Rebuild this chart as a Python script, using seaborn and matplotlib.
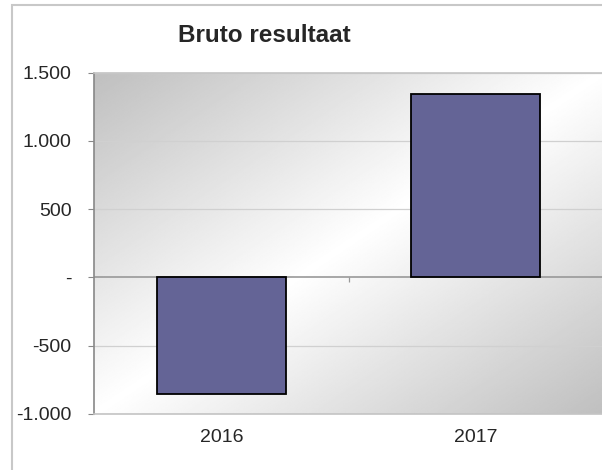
import numpy as np
import pandas as pd
import matplotlib
matplotlib.use("Agg")
import matplotlib.pyplot as plt
from matplotlib.patches import Rectangle
from matplotlib.ticker import FuncFormatter
import seaborn as sns

# Data
jaren = ["2016", "2017"]
resultaat = [-850, 1345]
yticks = [-1000, -500, 0, 500, 1000, 1500]

df = pd.DataFrame({"jaar": jaren, "resultaat": resultaat})

sns.set_style("white")
plt.rcParams["font.family"] = ["Liberation Sans", "DejaVu Sans"]

fig = plt.figure(figsize=(6.02, 4.70), dpi=100)
ax = fig.add_axes([94 / 602, 1 - 414 / 470, 1 - 94 / 602 + 0.002, (414 - 72.7) / 470])

# Diagonal gradient background of the plot area
u, v = np.meshgrid(np.linspace(0, 1, 300), np.linspace(1, 0, 300))
shade = 1 - 0.25 * np.abs(u - v)
ax.imshow(shade, cmap="gray", vmin=0, vmax=1, extent=[0, 1, 0, 1],
          transform=ax.transAxes, aspect="auto", zorder=0, interpolation="bilinear")

sns.barplot(data=df, x="jaar", y="resultaat", color="#646496", saturation=1,
            width=0.507, edgecolor="black", linewidth=1.3, ax=ax, zorder=3)

ax.set_ylim(-1000, 1500)
ax.set_xlim(-0.5, len(jaren) - 0.5)
ax.set_yticks(yticks)
ax.yaxis.set_major_formatter(FuncFormatter(
    lambda val, pos: "-" if val == 0 else f"{int(val):,}".replace(",", ".")))

for yv in yticks:
    if yv != 0:
        ax.axhline(yv, color="#d0d0d0", linewidth=0.9, zorder=1)
ax.axhline(0, color="#999999", linewidth=1.2, zorder=2)
# small category separator tick on the zero line
for b in np.arange(len(jaren) - 1) + 0.5:
    ax.vlines(b, -5 * 2500 / 341, 0, color="#999999", linewidth=0.9, zorder=2)

ax.set_xlabel("")
ax.set_ylabel("")
ax.tick_params(axis="y", which="major", length=4.3, width=0.8, color="#888888",
               labelsize=14, pad=12, left=True)
ax.tick_params(axis="x", length=0, labelsize=14, pad=11)

for side in ["top", "right", "bottom"]:
    ax.spines[side].set_color("#c4c4c4")
    ax.spines[side].set_linewidth(1.2)
ax.spines["left"].set_color("#888888")
ax.spines["left"].set_linewidth(1.2)

fig.text(264 / 602, 1 - 35 / 470, "Bruto resultaat", ha="center", va="center",
         fontsize=17.5, fontweight="bold")

# Outer chart border
fig.patches.append(Rectangle((12 / 602, -0.1), 1.2, 1 - 5 / 470 + 0.1,
                             transform=fig.transFigure, fill=False,
                             edgecolor="#c8c8c8", linewidth=1.5))

fig.savefig("out.png", dpi=100)
